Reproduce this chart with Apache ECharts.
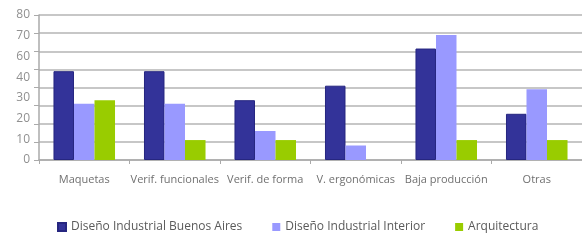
<!DOCTYPE html>
<html>
<head>
<meta charset="utf-8">
<script src="https://cdn.jsdelivr.net/npm/echarts@6/dist/echarts.min.js"></script>
<style>
  html, body { margin: 0; padding: 0; background: #fff; }
  #chart { width: 582px; height: 242px; }
</style>
</head>
<body>
<div id="chart"></div>
<script>
let categories = ['Maquetas', 'Verif. funcionales', 'Verif. de forma', 'V. ergonómicas', 'Baja producción', 'Otras'];
let buenosAires = [49, 49, 33, 41, 61.5, 25.5];
let interior = [31, 31, 16, 8, 69, 39];
let arquitectura = [33, 11, 11, 0, 11, 11];
// the original axis prints only these labels, spread evenly over the height
let yLabels = ['0', '10', '20', '30', '40', '60', '70', '80'];

let myChart = echarts.init(document.getElementById('chart'));
let font = '"Open Sans", "Noto Sans", sans-serif';
let option = {
    animation: false,
    textStyle: {fontFamily: font},
    grid: {left: 39, right: -7, top: 15, bottom: 82},
    legend: {
        bottom: 4,
        left: 52,
        icon: 'rect',
        itemWidth: 8,
        itemHeight: 8,
        itemGap: 30,
        textStyle: {color: '#5a5a5a', fontSize: 12, fontFamily: font}
    },
    xAxis: {
        type: 'category',
        data: categories,
        axisLine: {lineStyle: {color: '#aaa', width: 1.5}},
        axisTick: {show: true, length: 4, lineStyle: {color: '#aaa'}},
        axisLabel: {color: '#707070', fontSize: 11, margin: 14, interval: 0}
    },
    yAxis: [
        {
            type: 'value',
            min: 0,
            max: 80,
            interval: 10,
            axisLine: {show: true, lineStyle: {color: '#aaa', width: 1.5}},
            axisTick: {show: true, length: 5, lineStyle: {color: '#aaa'}},
            axisLabel: {show: false},
            splitLine: {lineStyle: {color: '#b4b4b4', width: 1.5}}
        },
        {
            type: 'value',
            position: 'left',
            min: 0,
            max: yLabels.length - 1,
            interval: 1,
            axisLine: {show: false},
            axisTick: {show: false},
            splitLine: {show: false},
            axisLabel: {
                color: '#909090',
                fontSize: 12,
                margin: 9,
                formatter: function (v) { return yLabels[v]; }
            }
        }
    ],
    series: [
        {
            name: 'Diseño Industrial Buenos Aires',
            type: 'bar',
            data: buenosAires,
            barGap: '0%',
            barCategoryGap: '32%',
            itemStyle: {color: '#333399', borderColor: '#262680', borderWidth: 1}
        },
        {
            name: 'Diseño Industrial Interior',
            type: 'bar',
            data: interior,
            itemStyle: {color: '#9999ff'}
        },
        {
            name: 'Arquitectura',
            type: 'bar',
            data: arquitectura,
            itemStyle: {color: '#99cc00'}
        }
    ]
};
myChart.setOption(option);
</script>
</body>
</html>
